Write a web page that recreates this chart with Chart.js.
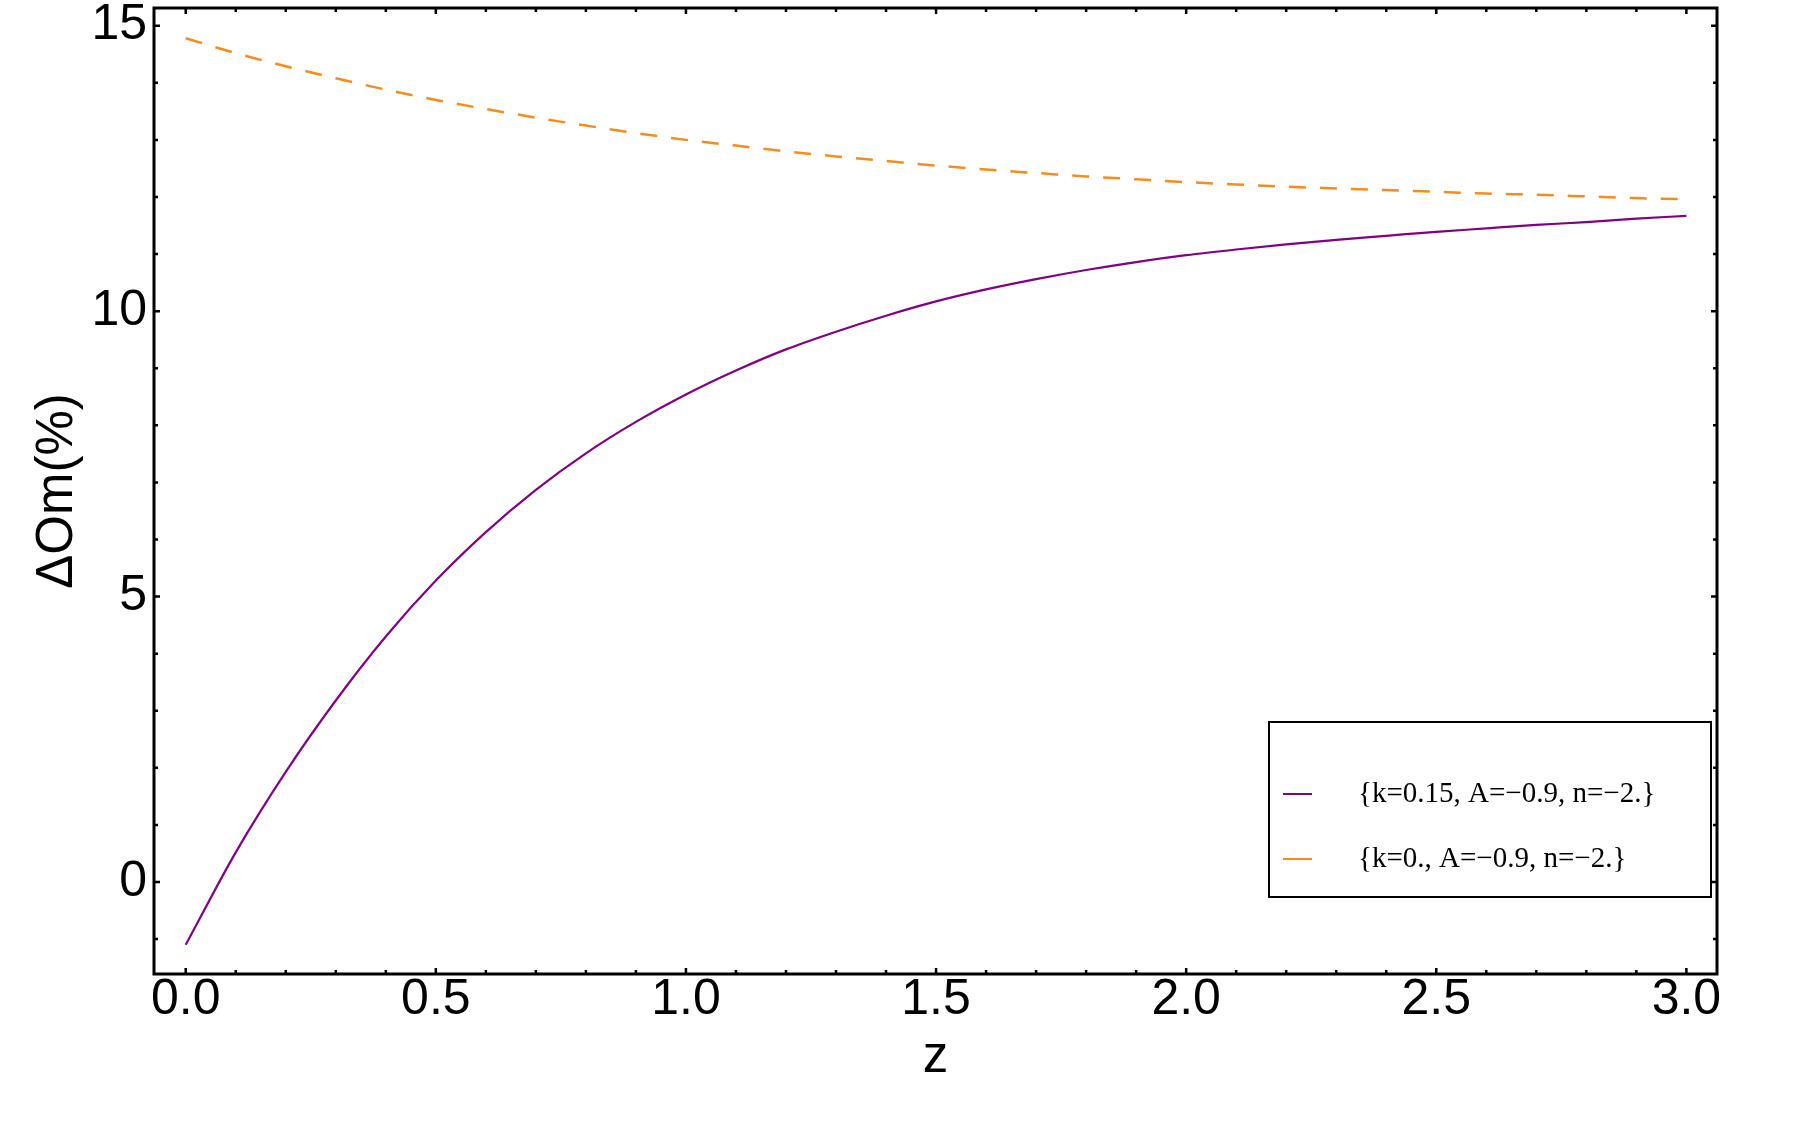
<!DOCTYPE html>
<html>
<head>
<meta charset="utf-8">
<script src="https://cdn.jsdelivr.net/npm/chart.js@4/dist/chart.umd.min.js"></script>
<style>
  html, body { margin: 0; padding: 0; background: #ffffff; }
  #wrap { width: 1800px; height: 1125px; }
</style>
</head>
<body>
<div id="wrap"><canvas id="c" width="1800" height="1125"></canvas></div>
<script>
// ---- data ----
const zValues = [0.0, 0.1, 0.2, 0.3, 0.4, 0.5, 0.6, 0.7, 0.8, 0.9, 1.0,
                 1.1, 1.2, 1.3, 1.4, 1.5, 1.6, 1.7, 1.8, 1.9, 2.0,
                 2.1, 2.2, 2.3, 2.4, 2.5, 2.6, 2.7, 2.8, 2.9, 3.0];
const purpleValues = [-1.10, 0.52, 1.93, 3.18, 4.30, 5.28, 6.13, 6.87, 7.51, 8.06, 8.54,
                      8.96, 9.33, 9.64, 9.92, 10.17, 10.38, 10.56, 10.72, 10.86, 10.98,
                      11.08, 11.17, 11.25, 11.32, 11.39, 11.45, 11.51, 11.56, 11.62, 11.67];
const orangeValues = [14.78, 14.52, 14.29, 14.08, 13.88, 13.70, 13.54, 13.39, 13.25, 13.12, 13.00,
                      12.90, 12.80, 12.71, 12.63, 12.55, 12.48, 12.42, 12.36, 12.31, 12.26,
                      12.22, 12.18, 12.15, 12.12, 12.09, 12.06, 12.04, 12.01, 11.98, 11.96];
const seriesLabels = ['{k=0.15, A=\u22120.9, n=\u22122.}', '{k=0., A=\u22120.9, n=\u22122.}'];
const xTickLabels = [0.0, 0.5, 1.0, 1.5, 2.0, 2.5, 3.0];
const yTickLabels = [0, 5, 10, 15];
const xMinorTicks = Array.from({length: 31}, (_, i) => i / 10);
const yMinorTicks = Array.from({length: 17}, (_, i) => i - 1);
const xTitle = 'z';
const yTitle = '\u0394Om(%)';

const purpleColor = 'rgb(128,0,128)';
const orangeColor = 'rgb(247,140,30)';

const toPoints = (ys) => zValues.map((z, i) => ({x: z, y: ys[i]}));

const framePlugin = {
  id: 'frame',
  afterDatasetsDraw(chart) {
    const {ctx, chartArea: a, scales: {x, y}} = chart;
    ctx.save();
    ctx.strokeStyle = '#000';
    ctx.lineWidth = 2.5;
    ctx.lineCap = 'butt';
    ctx.beginPath();
    xMinorTicks.forEach(v => {
      const px = x.getPixelForValue(v);
      const major = Math.abs(v * 2 - Math.round(v * 2)) < 1e-6;
      const L = major ? 6 : 4;
      ctx.moveTo(px, a.bottom); ctx.lineTo(px, a.bottom - L);
      ctx.moveTo(px, a.top); ctx.lineTo(px, a.top + L);
    });
    yMinorTicks.forEach(v => {
      const py = y.getPixelForValue(v);
      const major = v % 5 === 0;
      const L = major ? 6 : 4;
      ctx.moveTo(a.left, py); ctx.lineTo(a.left + L, py);
      ctx.moveTo(a.right, py); ctx.lineTo(a.right - L, py);
    });
    ctx.stroke();
    ctx.lineWidth = 3;
    ctx.strokeRect(a.left, a.top, a.right - a.left, a.bottom - a.top);

    // legend box
    ctx.lineWidth = 2;
    ctx.strokeRect(1269, 722, 442, 175);
    const rows = [
      {label: seriesLabels[0], color: purpleColor, y: 794},
      {label: seriesLabels[1], color: orangeColor, y: 859}
    ];
    ctx.font = '29px "Liberation Serif", "Times New Roman", serif';
    ctx.textBaseline = 'alphabetic';
    ctx.textAlign = 'left';
    rows.forEach(r => {
      ctx.strokeStyle = r.color;
      ctx.lineWidth = 2;
      ctx.beginPath();
      ctx.moveTo(1283, r.y); ctx.lineTo(1312, r.y);
      ctx.stroke();
      ctx.fillStyle = '#000';
      ctx.fillText(r.label, 1358, r.y + 8);
    });
    ctx.restore();
  }
};

const tickFont = {family: '"Liberation Sans", Arial, Helvetica, sans-serif', size: 50, lineHeight: 1};

new Chart(document.getElementById('c'), {
  type: 'line',
  data: {
    datasets: [
      {
        label: seriesLabels[0],
        data: toPoints(purpleValues),
        borderColor: purpleColor,
        borderWidth: 2.2,
        pointRadius: 0,
        fill: false,
        cubicInterpolationMode: 'monotone'
      },
      {
        label: seriesLabels[1],
        data: toPoints(orangeValues),
        borderColor: orangeColor,
        borderWidth: 2.5,
        borderDash: [17, 14],
        pointRadius: 0,
        fill: false,
        cubicInterpolationMode: 'monotone'
      }
    ]
  },
  options: {
    responsive: false,
    animation: false,
    devicePixelRatio: 1,
    layout: {padding: {top: 8, right: 83, bottom: 0, left: 0}},
    plugins: {legend: {display: false}, tooltip: {enabled: false}},
    scales: {
      x: {
        type: 'linear',
        position: 'bottom',
        min: -0.0634,
        max: 3.0612,
        afterBuildTicks: (s) => { s.ticks = xTickLabels.map(v => ({value: v})); },
        afterFit: (s) => { s.height = 151; s.paddingLeft = 0; s.paddingRight = 0; },
        grid: {display: false, drawTicks: false},
        border: {display: false},
        ticks: {
          color: '#000',
          font: tickFont,
          padding: 1,
          maxRotation: 0,
          autoSkip: false,
          callback: (v) => Number(v).toFixed(1)
        },
        title: {
          display: true,
          text: xTitle,
          color: '#000',
          font: {family: '"Liberation Sans", Arial, sans-serif', size: 51, lineHeight: 1},
          padding: {top: 0, bottom: 42}
        }
      },
      y: {
        type: 'linear',
        position: 'left',
        min: -1.611,
        max: 15.31,
        afterBuildTicks: (s) => { s.ticks = yTickLabels.map(v => ({value: v})); },
        afterFit: (s) => { s.width = 154; s.paddingTop = 0; s.paddingBottom = 0; },
        grid: {display: false, drawTicks: false},
        border: {display: false},
        ticks: {
          color: '#000',
          font: tickFont,
          padding: 7,
          autoSkip: false,
          callback: (v) => String(v)
        },
        title: {
          display: true,
          text: yTitle,
          color: '#000',
          font: {family: '"Liberation Sans", Arial, sans-serif', size: 51, lineHeight: 1},
          padding: {top: 32, bottom: 0}
        }
      }
    }
  },
  plugins: [framePlugin]
});
</script>
</body>
</html>
